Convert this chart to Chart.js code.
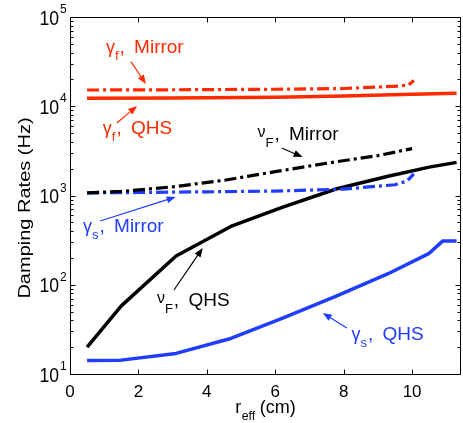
<!DOCTYPE html>
<html><head><meta charset="utf-8">
<script src="https://cdn.jsdelivr.net/npm/chart.js@4.4.1/dist/chart.umd.min.js"></script>
<style>html,body{margin:0;padding:0;background:#fff;overflow:hidden}canvas{display:block}</style>
</head><body>
<canvas id="c" width="463" height="423"></canvas>
<script>
// ---------- data ----------
const xTickValues = [0, 2, 4, 6, 8, 10];
const yDecades = [1, 2, 3, 4, 5];           // 10^1 ... 10^5
const xAxisTitle = ['r', 'eff', ' (cm)'];
const yAxisTitle = 'Damping Rates (Hz)';

// gamma_f, Mirror (red dash-dot)
const gfMirrorX = [0.5, 3, 6, 8, 9.6, 9.9, 10.05];
const gfMirrorY = [15200, 15300, 15500, 15800, 16800, 17300, 19500];
// gamma_f, QHS (red solid)
const gfQhsX = [0.5, 3, 6, 8, 10, 11.3];
const gfQhsY = [12300, 12400, 12600, 13000, 13600, 14000];
// nu_F, Mirror (black dash-dot)
const nuMirrorX = [0.5, 1.5, 3, 4.5, 6, 7.5, 9, 10];
const nuMirrorY = [1070, 1110, 1250, 1480, 1850, 2300, 2800, 3350];
// gamma_s, Mirror (blue dash-dot)
const gsMirrorX = [0.5, 2, 4, 6, 8, 9.5, 9.85, 10.05];
const gsMirrorY = [1070, 1080, 1100, 1120, 1180, 1320, 1450, 1750];
// nu_F, QHS (black solid)
const nuQhsX = [0.5, 1.5, 3.1, 4.7, 6.2, 7.8, 9.3, 10.5, 11.3];
const nuQhsY = [20, 58, 210, 450, 735, 1190, 1645, 2080, 2350];
// gamma_s, QHS (blue solid)
const gsQhsX = [0.5, 1.5, 3.1, 4.7, 6.2, 7.8, 9.3, 10.5, 10.9, 11.3];
const gsQhsY = [14.2, 14.3, 17, 25, 42, 75, 133, 225, 310, 310];

// annotation texts
const annGlyphs = ['γ', 'γ', 'ν', 'γ', 'ν', 'γ'];
const annSubs   = ['f', 'f', 'F', 's', 'F', 's'];
const annWords  = ['Mirror', 'QHS', 'Mirror', 'Mirror', 'QHS', 'QHS'];

// ---------- styles / placement ----------
const RED = '#ff2a00', BLUE = '#1f3cff', BLACK = '#000000';
const DASHDOT = [12, 4, 3, 4];
const annStyle = [
  {color: RED,   x: 1.05, ylog: 4.60,  a: [1.78, 4.50, 2.22, 4.25]},
  {color: RED,   x: 0.96, ylog: 3.69,  a: [1.37, 3.812, 1.96, 4.003]},
  {color: BLACK, x: 5.48, ylog: 3.622, a: [6.19, 3.532, 6.80, 3.431]},
  {color: BLUE,  x: 0.38, ylog: 2.591, a: [0.88, 2.714, 3.09, 2.983]},
  {color: BLACK, x: 2.54, ylog: 1.762, a: [3.04, 1.941, 3.88, 2.412]},
  {color: BLUE,  x: 8.23, ylog: 1.381, a: [8.09, 1.515, 7.39, 1.683]}
];
const FONT = '"Liberation Sans", Arial, sans-serif';

function pts(xs, ys) { return xs.map((v, i) => ({x: v, y: ys[i]})); }
function ds(xs, ys, color, dashed) {
  return {
    data: pts(xs, ys), borderColor: color, backgroundColor: color,
    borderWidth: dashed ? 3.2 : 3.5, borderDash: dashed ? DASHDOT : [],
    pointRadius: 0, tension: 0, fill: false, borderCapStyle: 'butt', borderJoinStyle: 'round'
  };
}

const axesPlugin = {
  id: 'matlabAxes',
  afterDatasetsDraw(chart) {
    const {ctx, chartArea: a, scales: {x, y}} = chart;
    const L = Math.round(a.left) + 0.5, R = Math.round(a.right) - 0.5;
    const T = Math.round(a.top) + 0.5, B = Math.round(a.bottom) + 0.5;
    ctx.save();
    ctx.strokeStyle = '#000'; ctx.lineWidth = 1; ctx.setLineDash([]);
    ctx.beginPath();
    ctx.moveTo(L, T); ctx.lineTo(R, T); ctx.lineTo(R, B); ctx.lineTo(L, B); ctx.closePath();
    // x ticks
    xTickValues.forEach(v => {
      const px = Math.round(x.getPixelForValue(v)) + 0.5;
      ctx.moveTo(px, B); ctx.lineTo(px, B - 5);
      ctx.moveTo(px, T); ctx.lineTo(px, T + 5);
    });
    // y ticks (major + minor)
    yDecades.forEach(k => {
      for (let m = 1; m <= 9; m++) {
        const val = m * Math.pow(10, k);
        if (val > y.max * 1.0001) continue;
        const py = Math.round(y.getPixelForValue(val)) + 0.5;
        const len = m === 1 ? 5 : 3;
        ctx.moveTo(L, py); ctx.lineTo(L + len, py);
        ctx.moveTo(R, py); ctx.lineTo(R - len, py);
      }
    });
    ctx.stroke();

    // tick labels
    ctx.fillStyle = '#000';
    ctx.font = '17px ' + FONT; ctx.textAlign = 'center'; ctx.textBaseline = 'alphabetic';
    xTickValues.forEach(v => ctx.fillText(String(v), x.getPixelForValue(v), a.bottom + 23));
    yDecades.forEach(k => {
      const py = y.getPixelForValue(Math.pow(10, k));
      ctx.save();
      ctx.translate(a.left - 11, py + 7.5); ctx.scale(0.88, 1);
      ctx.font = '20px ' + FONT; ctx.textAlign = 'right';
      ctx.fillText('10', 0, 0);
      ctx.restore();
      ctx.font = '12px ' + FONT; ctx.textAlign = 'left';
      ctx.fillText(String(k), a.left - 10, py - 4);
    });

    // axis titles
    ctx.save();
    ctx.translate(25, 208); ctx.rotate(-Math.PI / 2); ctx.scale(1, 0.85);
    ctx.font = '20px ' + FONT; ctx.textAlign = 'center'; ctx.textBaseline = 'middle';
    ctx.fillText(yAxisTitle, 0, 0);
    ctx.restore();

    ctx.save();
    ctx.textAlign = 'left';
    const f1 = '19px ' + FONT, f2 = '13px ' + FONT;
    ctx.font = f1; const w0 = ctx.measureText(xAxisTitle[0]).width, w2 = ctx.measureText(xAxisTitle[2]).width;
    ctx.font = f2; const w1 = ctx.measureText(xAxisTitle[1]).width;
    const sx = 0.95;
    const tot = (w0 + w1 + w2) * sx;
    const cx = (a.left + a.right) / 2;
    ctx.translate(cx - tot / 2, 0); ctx.scale(sx, 1);
    ctx.font = f1; ctx.fillText(xAxisTitle[0], 0, a.bottom + 39);
    ctx.font = f2; ctx.fillText(xAxisTitle[1], w0 + 0.5, a.bottom + 46);
    ctx.font = f1; ctx.fillText(xAxisTitle[2], w0 + w1, a.bottom + 39);
    ctx.restore();
    ctx.restore();
  },
  afterDraw(chart) {
    const {ctx, scales: {x, y}} = chart;
    ctx.save();
    annStyle.forEach((s, i) => {
      const px = x.getPixelForValue(s.x), py = y.getPixelForValue(Math.pow(10, s.ylog));
      ctx.fillStyle = s.color; ctx.strokeStyle = s.color;
      ctx.textAlign = 'left'; ctx.textBaseline = 'alphabetic';
      let cx = px;
      const isNu = annGlyphs[i] === 'ν';
      ctx.font = (isNu ? '16px ' : '18px ') + FONT;
      ctx.fillText(annGlyphs[i], cx, py - (isNu ? 3 : 0));
      cx += ctx.measureText(annGlyphs[i]).width;
      ctx.font = '13px ' + FONT;
      ctx.fillText(annSubs[i], cx, py + 7);
      cx += ctx.measureText(annSubs[i]).width;
      ctx.font = '19px ' + FONT;
      ctx.fillText(',', cx + 1, py);
      cx += ctx.measureText(', ').width + 5;
      ctx.fillText(annWords[i], cx, py);
      // arrow
      const x1 = x.getPixelForValue(s.a[0]), y1 = y.getPixelForValue(Math.pow(10, s.a[1]));
      const x2 = x.getPixelForValue(s.a[2]), y2 = y.getPixelForValue(Math.pow(10, s.a[3]));
      const ang = Math.atan2(y2 - y1, x2 - x1);
      const hl = 9, hw = 3.5;
      ctx.lineWidth = 1.2; ctx.setLineDash([]);
      ctx.beginPath(); ctx.moveTo(x1, y1);
      ctx.lineTo(x2 - Math.cos(ang) * hl * 0.8, y2 - Math.sin(ang) * hl * 0.8); ctx.stroke();
      ctx.beginPath();
      ctx.moveTo(x2, y2);
      ctx.lineTo(x2 - Math.cos(ang) * hl - Math.sin(ang) * hw, y2 - Math.sin(ang) * hl + Math.cos(ang) * hw);
      ctx.lineTo(x2 - Math.cos(ang) * hl + Math.sin(ang) * hw, y2 - Math.sin(ang) * hl - Math.cos(ang) * hw);
      ctx.closePath(); ctx.fill();
    });
    ctx.restore();
  }
};

new Chart(document.getElementById('c'), {
  type: 'line',
  data: {
    datasets: [
      ds(nuMirrorX, nuMirrorY, BLACK, true),
      ds(gsMirrorX, gsMirrorY, BLUE, true),
      ds(gfMirrorX, gfMirrorY, RED, true),
      ds(gfQhsX, gfQhsY, RED, false),
      ds(nuQhsX, nuQhsY, BLACK, false),
      ds(gsQhsX, gsQhsY, BLUE, false)
    ]
  },
  options: {
    responsive: false, animation: false, devicePixelRatio: 1,
    layout: {padding: {left: 70, right: 2, top: 17, bottom: 49}},
    plugins: {legend: {display: false}, tooltip: {enabled: false}},
    scales: {
      x: {type: 'linear', min: 0, max: 11.43, display: false},
      y: {type: 'logarithmic', min: 10, max: 100000, display: false}
    }
  },
  plugins: [axesPlugin]
});
</script>
</body></html>
